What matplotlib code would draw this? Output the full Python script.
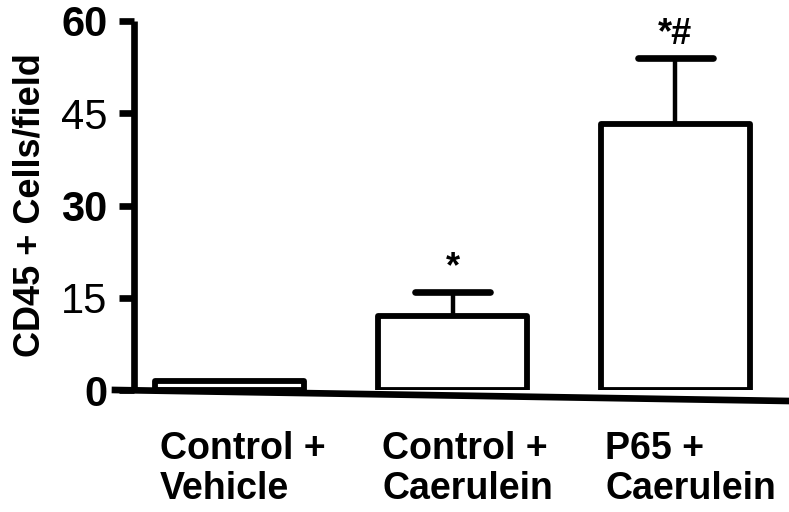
import matplotlib
matplotlib.use("Agg")
import matplotlib.pyplot as plt
from matplotlib.lines import Line2D

plt.rcParams['font.family'] = ['Liberation Sans', 'DejaVu Sans']

categories = ["Control +\nVehicle", "Control +\nCaerulein", "P65 +\nCaerulein"]
means = [1.5, 12.0, 43.2]
errors = [0.0, 4.0, 10.8]
annotations = ["", "*", "*#"]
yticks = [0, 15, 30, 45, 60]
ytick_bold = [True, False, True, False, True]

W, H = 789, 512
fig = plt.figure(figsize=(W / 100, H / 100), dpi=100)
left, right = 134 / W, 1.0
bottom, top = 1 - 390 / H, 1 - 21 / H
ax = fig.add_axes([left, bottom, right - left, top - bottom])

x = [0, 1, 2]
width = 0.67
bars = ax.bar(x, means, width=width, color="white", edgecolor="black",
              linewidth=4.2, zorder=3, joinstyle="round")
for xi, m, e in zip(x, means, errors):
    if e > 0:
        ax.plot([xi, xi], [m, m + e], color="black", lw=3.2, zorder=2,
                solid_capstyle="butt")
        ax.plot([xi - width / 4, xi + width / 4], [m + e, m + e], color="black",
                lw=4.8, solid_capstyle="round", zorder=2)

for xi, m, e, a in zip(x, means, errors, annotations):
    if a:
        ax.text(xi, m + e + 1.0, a, ha="center", va="bottom",
                fontsize=26, fontweight="bold")

ax.set_xlim(-0.43, 2.51)
ax.set_ylim(0, 60)
ax.set_yticks(yticks)
ax.set_yticklabels([str(t) for t in yticks])
for lab, b in zip(ax.get_yticklabels(), ytick_bold):
    lab.set_fontweight("bold" if b else "normal")
    lab.set_fontsize(30)
ax.tick_params(axis="y", direction="out", length=11, width=4.8, pad=8)
ax.set_xticks([])
for s in ["top", "right", "bottom"]:
    ax.spines[s].set_visible(False)
ax.spines["left"].set_linewidth(4.8)
ax.spines["left"].set_capstyle("butt")

ax.set_ylabel("CD45 + Cells/field", fontsize=26, fontweight="bold", labelpad=10)

# slightly tilted baseline
fig.add_artist(Line2D([115 / W, 1.0], [1 - 390 / H, 1 - 401 / H],
                      transform=fig.transFigure, color="black", lw=4.8))

for xi, c in zip(x, categories):
    ax.text(xi - width / 2 + 0.02, -0.11, c, transform=ax.get_xaxis_transform(),
            ha="left", va="top", fontsize=27, fontweight="bold", linespacing=1.15)

fig.savefig("out.png", dpi=100)
